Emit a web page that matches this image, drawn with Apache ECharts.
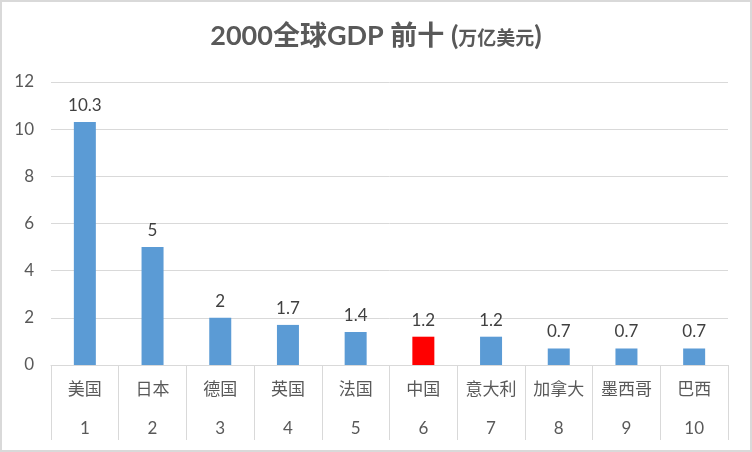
<!DOCTYPE html>
<html><head><meta charset="utf-8">
<script src="https://cdn.jsdelivr.net/npm/echarts@6/dist/echarts.min.js"></script>
<style>html,body{margin:0;padding:0;background:#fff}#c{width:752px;height:452px}</style>
</head><body><div id="c"></div>
<script>
var countries = ['美国','日本','德国','英国','法国','中国','意大利','加拿大','墨西哥','巴西'];
var ranks = ['1','2','3','4','5','6','7','8','9','10'];
var gdp = [10.3, 5, 2, 1.7, 1.4, 1.2, 1.2, 0.7, 0.7, 0.7];
var highlight = '中国';

var FONT = "Lato, 'Noto Sans CJK SC', sans-serif";
var chart = echarts.init(document.getElementById('c'));
chart.setOption({
  animation: false,
  backgroundColor: '#fff',
  textStyle: {fontFamily: FONT},
  title: {
    left: 'center', top: 18,
    text: '{a|2000全球GDP 前十 }{p|(}{b|万亿美元}{p|)}',
    textStyle: {
      rich: {
        a: {fontSize: 27, fontWeight: 'bold', color: '#595959', fontFamily: FONT},
        p: {fontSize: 27, fontWeight: 'bold', color: '#595959', fontFamily: FONT},
        b: {fontSize: 19, fontWeight: 'bold', color: '#595959', fontFamily: FONT, padding: [5,0,0,0]}
      }
    }
  },
  graphic: [{
    type: 'rect', silent: true, z: 100,
    shape: {x: 1, y: 1, width: 750, height: 450},
    style: {fill: 'none', stroke: '#d9d9d9', lineWidth: 2}
  }],
  grid: {left: 51, right: 24, top: 82, bottom: 87},
  xAxis: {
    type: 'category',
    data: countries,
    axisLine: {lineStyle: {color: '#d9d9d9', width: 1}},
    axisTick: {show: true, interval: 0, length: 75, lineStyle: {color: '#d9d9d9'}},
    axisLabel: {
      interval: 0, margin: 5,
      formatter: function (v, i) { return '{n|' + v + '}\n{r|' + ranks[i] + '}'; },
      rich: {
        n: {fontSize: 17, color: '#595959', lineHeight: 39, fontFamily: FONT},
        r: {fontSize: 17, color: '#595959', lineHeight: 39, fontFamily: FONT}
      }
    }
  },
  yAxis: {
    type: 'value', min: 0, max: 12, interval: 2,
    axisLine: {show: false}, axisTick: {show: false},
    axisLabel: {fontSize: 17, color: '#595959', margin: 17},
    splitLine: {lineStyle: {color: '#d9d9d9', width: 1}}
  },
  series: [{
    type: 'bar',
    barWidth: 22,
    data: gdp.map(function (v, i) {
      return {value: v, itemStyle: {color: countries[i] === highlight ? '#ff0000' : '#5b9bd5'}};
    }),
    label: {show: true, position: 'top', distance: 8, fontSize: 17, color: '#404040'}
  }]
});
</script></body></html>
